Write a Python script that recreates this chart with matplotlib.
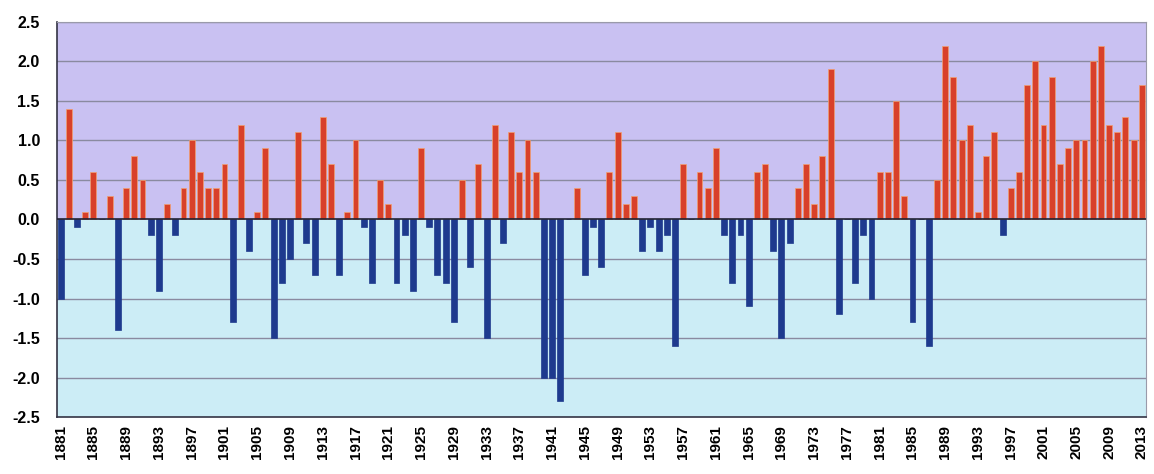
import numpy as np
import matplotlib
matplotlib.use("Agg")
import matplotlib.pyplot as plt

# Annual anomalies 1881-2013
years = list(range(1881, 2014))
anomaly = [
    -1.0, 1.4, -0.1, 0.1, 0.6, 0.0, 0.3, -1.4, 0.4, 0.8,   # 1881-1890
    0.5, -0.2, -0.9, 0.2, -0.2, 0.4, 1.0, 0.6, 0.4, 0.4,   # 1891-1900
    0.7, -1.3, 1.2, -0.4, 0.1, 0.9, -1.5, -0.8, -0.5, 1.1, # 1901-1910
    -0.3, -0.7, 1.3, 0.7, -0.7, 0.1, 1.0, -0.1, -0.8, 0.5, # 1911-1920
    0.2, -0.8, -0.2, -0.9, 0.9, -0.1, -0.7, -0.8, -1.3, 0.5,  # 1921-1930
    -0.6, 0.7, -1.5, 1.2, -0.3, 1.1, 0.6, 1.0, 0.6, -2.0,  # 1931-1940
    -2.0, -2.3, 0.0, 0.4, -0.7, -0.1, -0.6, 0.6, 1.1, 0.2, # 1941-1950
    0.3, -0.4, -0.1, -0.4, -0.2, -1.6, 0.7, 0.0, 0.6, 0.4, # 1951-1960
    0.9, -0.2, -0.8, -0.2, -1.1, 0.6, 0.7, -0.4, -1.5, -0.3,  # 1961-1970
    0.4, 0.7, 0.2, 0.8, 1.9, -1.2, 0.0, -0.8, -0.2, -1.0,  # 1971-1980
    0.6, 0.6, 1.5, 0.3, -1.3, 0.0, -1.6, 0.5, 2.2, 1.8,    # 1981-1990
    1.0, 1.2, 0.1, 0.8, 1.1, -0.2, 0.4, 0.6, 1.7, 2.0,     # 1991-2000
    1.2, 1.8, 0.7, 0.9, 1.0, 1.0, 2.0, 2.2, 1.2, 1.1,      # 2001-2010
    1.3, 1.0, 1.7,                                         # 2011-2013
]
tick_years = years[::4]

RED = "#d8402a"
BLUE = "#1e3a8e"
UPPER_BG = "#c9c1f2"
LOWER_BG = "#ccedf6"

plt.rcParams["font.family"] = ["Liberation Sans", "DejaVu Sans"]

fig = plt.figure(figsize=(11.54, 4.74), dpi=100)
ax = fig.add_axes([0.049, 0.120, 0.944, 0.834])

x = np.arange(len(years))
vals = np.array(anomaly)
colors = [RED if v > 0 else BLUE for v in vals]
edges = ["#f2a070" if v > 0 else BLUE for v in vals]

ax.set_xlim(-0.5, len(years) - 0.5)
ax.set_ylim(-2.5, 2.5)

# two-tone background
ax.axhspan(0, 2.5, color=UPPER_BG, zorder=0)
ax.axhspan(-2.5, 0, color=LOWER_BG, zorder=0)

for yv in np.arange(-2.0, 2.51, 0.5):
    if abs(yv) > 1e-9:
        ax.axhline(yv, color="#8a8aa0", linewidth=1.0, zorder=1)

ax.bar(x, vals, width=0.72, color=colors, edgecolor=edges, linewidth=0.5, zorder=2)
ax.axhline(0, color="#222233", linewidth=1.2, zorder=3)

ax.set_yticks(np.arange(-2.5, 2.51, 0.5))
ax.set_yticklabels(["%.1f" % v for v in np.arange(-2.5, 2.51, 0.5)],
                   fontsize=11.5, fontweight="bold")
ax.set_xticks([years.index(y) for y in tick_years])
ax.set_xticklabels([str(y) for y in tick_years], rotation=90,
                   fontsize=11, fontweight="bold")
ax.tick_params(axis="both", length=0, pad=6)
ax.tick_params(axis="y", pad=12)

for side in ["top", "right"]:
    ax.spines[side].set_color("#9a9aaa")
for side in ["left", "bottom"]:
    ax.spines[side].set_color("#333344")
    ax.spines[side].set_linewidth(1.2)

fig.savefig("out.png", dpi=100)
